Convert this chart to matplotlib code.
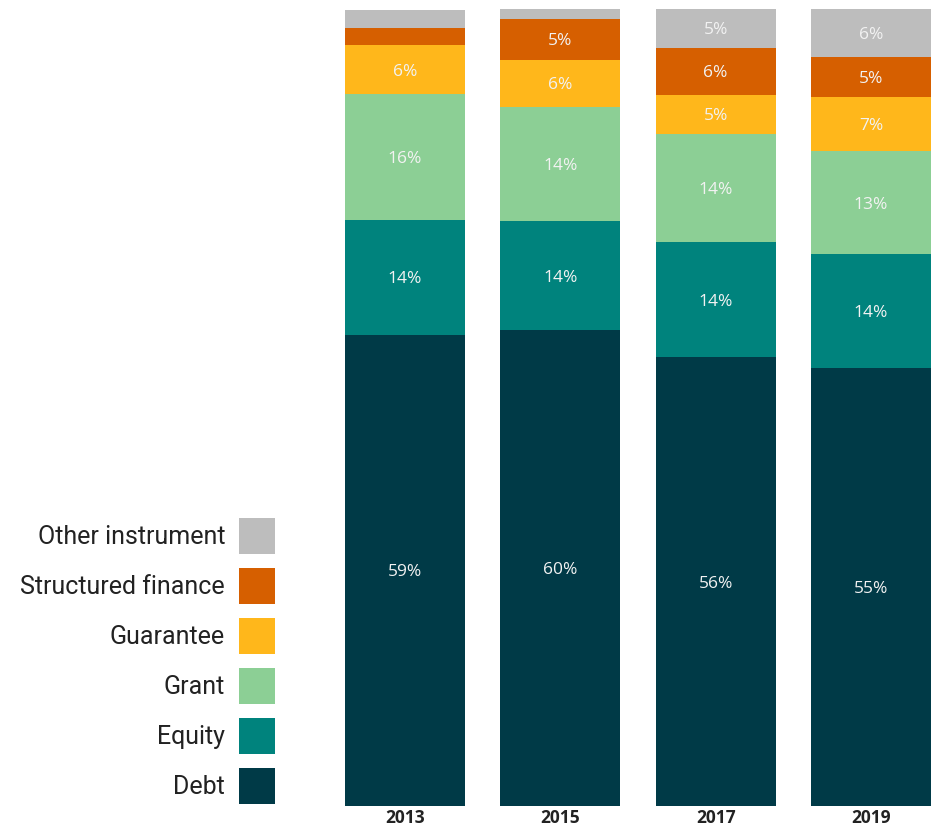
import numpy as np
import matplotlib
matplotlib.use("Agg")
import matplotlib.pyplot as plt

years = ["2013", "2015", "2017", "2019"]
instruments = ["Debt", "Equity", "Grant", "Guarantee", "Structured finance", "Other instrument"]
colors = ["#003a47", "#00837d", "#8ccf95", "#ffb71b", "#d65f00", "#bdbdbd"]

# share of each instrument per year, in percent
debt = [59.1, 59.7, 56.3, 54.9]
equity = [14.4, 13.6, 14.4, 14.3]
grant = [15.8, 14.3, 13.6, 12.9]
guarantee = [6.1, 6.0, 4.9, 6.8]
structured = [2.1, 5.1, 5.9, 5.0]
other = [2.3, 1.4, 4.9, 6.1]

shares = [debt, equity, grant, guarantee, structured, other]

fig = plt.figure(figsize=(9.35, 8.27), dpi=100)
ax = fig.add_axes([345 / 935, 1 - 806 / 827, 586 / 935, 797.5 / 827])

x = np.arange(len(years))
w = 0.773
bottom = np.zeros(len(years))
for name, vals, c in zip(instruments, shares, colors):
    vals = np.array(vals)
    ax.bar(x, vals, w, bottom=bottom, color=c, label=name, linewidth=0)
    for xi, b, v in zip(x, bottom, vals):
        if v >= 3:
            ax.text(xi, b + v / 2, f"{v:.0f}%", ha="center", va="center_baseline",
                    color="#f2f2f2", fontsize=12.5, family="Open Sans")
    bottom += vals

ax.set_xlim(-w / 2, len(years) - 1 + w / 2)
ax.set_ylim(0, 100)
ax.set_xticks(x)
ax.set_xticklabels(years, fontsize=12.5, fontweight="bold", color="#222222", family="Open Sans")
ax.tick_params(axis="x", length=0, pad=2)
ax.set_yticks([])
for s in ax.spines.values():
    s.set_visible(False)

# legend on the left, text right-aligned next to 36px squares
handles, labels = ax.get_legend_handles_labels()
fs = 18
fpx = fs * 100 / 72
box = 36 / fpx
hh = (box - 0.245) / 0.65   # legend trims the patch height by its descent
fig.legend(handles[::-1], labels[::-1], loc="upper right",
           bbox_to_anchor=(275 / 935, 1 - 518 / 827), bbox_transform=fig.transFigure,
           frameon=False, markerfirst=False,
           handlelength=box, handleheight=hh,
           handletextpad=14 / fpx, labelspacing=14 / fpx,
           borderpad=0, borderaxespad=0,
           prop={"family": "Roboto", "size": fs}, labelcolor="#222222")

fig.savefig("out.png", dpi=100)
